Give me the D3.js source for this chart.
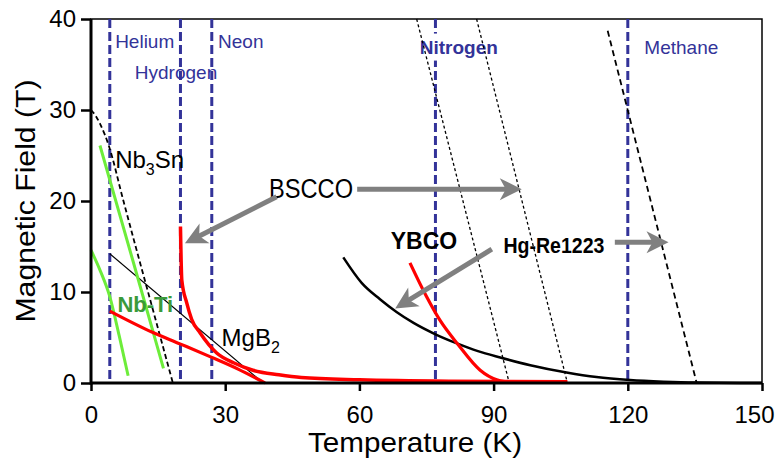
<!DOCTYPE html>
<html>
<head>
<meta charset="utf-8">
<script src="https://cdn.jsdelivr.net/npm/d3@7"></script>
<style>
  body { margin: 0; background: #fff; }
  svg { display: block; font-family: "Liberation Sans", Arial, Helvetica, sans-serif; }
</style>
</head>
<body>
<svg id="chart" width="775" height="459"></svg>
<script>
// ---- axis ticks ----
const xTicks = [0, 30, 60, 90, 120, 150];
const yTicks = [0, 10, 20, 30, 40];

// ---- boiling points of the cryogens (K) ----
const cryogenNames = ["Helium", "Hydrogen", "Neon", "Nitrogen", "Methane"];
const cryogenTemps = [4.2, 20, 27, 77, 120];

// ---- upper critical field / irreversibility curves: [T (K), B (T)] ----
const nb3snHc2   = [[0, 30], [1, 29.4], [2, 28.5], [3, 27.4], [3.9, 26.2], [7.2, 20.1], [10.2, 14.6], [14.2, 7.4], [18.3, 0]];
const nb3snIrr   = [[2.0, 26.1], [9.1, 13.9], [16.2, 1.6]];
const nbtiIrr    = [[0, 14.6], [2.1, 12.3], [4.2, 9.5], [6.3, 5.2], [8.3, 0.8]];
const mgb2Hc2    = [[4.2, 14.2], [38.5, 0]];
const mgb2Irr    = [[4.2, 7.9], [13.6, 5.6], [19.9, 4.3], [26.6, 2.9], [33, 1.5], [38.9, 0]];
const bsccoIrr   = [[20, 17.2], [20.3, 11.3], [21.4, 8.8], [22.5, 7.0], [24.4, 5.5], [28.1, 3.3], [32, 2.2], [36.2, 1.4], [42, 0.9], [47, 0.6], [60, 0.35], [80, 0.2], [106.5, 0.15]];
const ybcoIrr    = [[71.3, 13.2], [75, 9.5], [78, 6.9], [82.1, 4.2], [87, 1.4], [90.7, 0.35], [92.5, 0.15]];
const ybcoHc2    = [[56.4, 13.8], [60.5, 11.0], [64.6, 9.2], [68.3, 7.8], [72.1, 6.6], [77, 5.35], [81.8, 4.35], [86.5, 3.5], [91.5, 2.8], [98.2, 1.95], [106.3, 1.15], [113, 0.65], [120.5, 0.33], [128, 0.15], [135, 0.05], [150, 0]];
const bsccoHc2a  = [[72.8, 40], [93.5, 0]];
const bsccoHc2b  = [[86.2, 40], [106.5, 0]];
const hgHc2      = [[115.5, 38.7], [135.4, 0]];

// ---- layout ----
const W = 775, H = 459;
const margin = { top: 19, right: 13, bottom: 76, left: 91 };
const svg = d3.select("#chart");

const x = d3.scaleLinear().domain([0, 150]).range([margin.left, W - margin.right]);
const y = d3.scaleLinear().domain([0, 40]).range([H - margin.bottom, margin.top]);

const BLUE = "#333399", RED = "#ff0000", LIME = "#6ded3a", GREY = "#808080";

// plot frame (thin top and right)
svg.append("rect")
  .attr("x", x(0)).attr("y", y(40))
  .attr("width", x(150) - x(0)).attr("height", y(0) - y(40))
  .attr("fill", "none").attr("stroke", "#000").attr("stroke-width", 1.5);

// cryogen boiling-point lines
svg.append("g").selectAll("line")
  .data(cryogenTemps)
  .join("line")
  .attr("x1", d => x(d)).attr("x2", d => x(d))
  .attr("y1", y(40)).attr("y2", y(0))
  .attr("stroke", BLUE).attr("stroke-width", 3)
  .attr("stroke-dasharray", "9,4");

// cryogen labels
const cryoLabelPos = {
  Helium:   { T: 5.4,   B: 36.8, bold: false },
  Hydrogen: { T: 9.8,   B: 33.4, bold: false },
  Neon:     { T: 28.4,  B: 36.8, bold: false },
  Nitrogen: { T: 73.5,  B: 36.2, bold: true  },
  Methane:  { T: 123.7, B: 36.2, bold: false }
};
const cryoG = svg.append("g");
cryogenNames.forEach(name => {
  const p = cryoLabelPos[name];
  const t = cryoG.append("text")
    .attr("x", x(p.T)).attr("y", y(p.B))
    .attr("font-size", 19)
    .attr("font-weight", p.bold ? "bold" : "normal")
    .attr("fill", BLUE)
    .text(name);
  if (name === "Nitrogen") {
    const bb = t.node().getBBox();
    cryoG.insert("rect", "text")
      .attr("x", bb.x - 2).attr("y", bb.y - 3)
      .attr("width", bb.width + 4).attr("height", bb.height + 6)
      .attr("fill", "#fff");
  }
});

// curves
const line = d3.line().x(d => x(d[0])).y(d => y(d[1])).curve(d3.curveMonotoneX);
const straight = d3.line().x(d => x(d[0])).y(d => y(d[1]));
const curves = svg.append("g").attr("fill", "none").attr("stroke-linejoin", "round");

function draw(data, gen, stroke, width, dash) {
  curves.append("path")
    .attr("d", gen(data))
    .attr("stroke", stroke)
    .attr("stroke-width", width)
    .attr("stroke-dasharray", dash || null);
}

draw(nb3snHc2, line, "#000", 1.8, "5,3");
draw(bsccoHc2a, straight, "#000", 1.3, "3,2.5");
draw(bsccoHc2b, straight, "#000", 1.3, "3,2.5");
draw(hgHc2, straight, "#000", 1.8, "6,4");
draw(mgb2Hc2, straight, "#000", 1.2);
draw(ybcoHc2, line, "#000", 2.5);
draw(nb3snIrr, straight, LIME, 3);
draw(nbtiIrr, line, LIME, 3);
draw(mgb2Irr, line, RED, 3.2);
draw(bsccoIrr, line, RED, 3.5);
draw(ybcoIrr, line, RED, 3.2);

// axes
const xAxis = d3.axisBottom(x).tickValues(xTicks).tickSize(8).tickPadding(15);
const yAxis = d3.axisLeft(y).tickValues(yTicks).tickSize(10).tickPadding(5);

const gx = svg.append("g").attr("transform", `translate(0,${y(0)})`).call(xAxis);
const gy = svg.append("g").attr("transform", `translate(${x(0)},0)`).call(yAxis);
[gx, gy].forEach(g => {
  g.select(".domain").remove();
  g.selectAll(".tick line").attr("stroke", "#000").attr("stroke-width", 2.5);
  g.selectAll(".tick text").attr("font-size", 24).attr("fill", "#000")
    .attr("font-family", "Liberation Sans, Arial, sans-serif");
});
// keep the last temperature label inside the canvas
gx.selectAll(".tick text").filter(d => d === 150).attr("dx", -8);

svg.append("line").attr("x1", x(0)).attr("x2", x(150)).attr("y1", y(0)).attr("y2", y(0))
  .attr("stroke", "#000").attr("stroke-width", 3);
svg.append("line").attr("x1", x(0)).attr("x2", x(0)).attr("y1", y(0) + 1.5).attr("y2", y(40))
  .attr("stroke", "#000").attr("stroke-width", 3);

// axis titles
svg.append("text")
  .attr("x", 415).attr("y", 452)
  .attr("text-anchor", "middle").attr("font-size", 28)
  .attr("textLength", 214).attr("lengthAdjust", "spacingAndGlyphs")
  .text("Temperature (K)");
svg.append("text")
  .attr("transform", `translate(35,${(y(0) + y(40)) / 2}) rotate(-90)`)
  .attr("text-anchor", "middle").attr("font-size", 28)
  .attr("textLength", 243).attr("lengthAdjust", "spacingAndGlyphs")
  .text("Magnetic Field (T)");

// material labels
const labels = svg.append("g");
{
  const t = labels.append("text").attr("x", x(5.4)).attr("y", y(23.6)).attr("font-size", 24);
  t.append("tspan").text("Nb");
  t.append("tspan").attr("font-size", 16).attr("dy", 7).text("3");
  t.append("tspan").attr("dy", -7).text("Sn");
}
{
  const t = labels.append("text").attr("x", x(29.2)).attr("y", y(4.1)).attr("font-size", 24);
  t.append("tspan").text("MgB");
  t.append("tspan").attr("font-size", 16).attr("dy", 7).text("2");
}
labels.append("text").attr("x", x(5.9)).attr("y", y(7.8))
  .attr("font-size", 22).attr("font-weight", "bold").attr("fill", "#3a9a3a").text("Nb-Ti");
labels.append("text").attr("x", x(39.8)).attr("y", y(20.3))
  .attr("font-size", 27).attr("textLength", 84).attr("lengthAdjust", "spacingAndGlyphs").text("BSCCO");
labels.append("text").attr("x", x(67.0)).attr("y", y(14.7))
  .attr("font-size", 23).attr("font-weight", "bold").text("YBCO");
labels.append("text").attr("x", x(92.2)).attr("y", y(14.3))
  .attr("font-size", 22).attr("font-weight", "bold")
  .attr("textLength", 101).attr("lengthAdjust", "spacingAndGlyphs").text("Hg-Re1223");

// grey arrows: [from T, from B, to T, to B]
const arrows = [
  [41.5, 20.47, 21.0, 15.35],
  [59.5, 21.3, 96.3, 21.3],
  [89.6, 14.7, 68.0, 8.2],
  [117.1, 15.46, 129.1, 15.46]
];
const arrowG = svg.append("g");
arrows.forEach(a => {
  const x1 = x(a[0]), y1 = y(a[1]), x2 = x(a[2]), y2 = y(a[3]);
  const ang = Math.atan2(y2 - y1, x2 - x1);
  const shaftEnd = 14;
  arrowG.append("line")
    .attr("x1", x1).attr("y1", y1)
    .attr("x2", x2 - shaftEnd * Math.cos(ang)).attr("y2", y2 - shaftEnd * Math.sin(ang))
    .attr("stroke", GREY).attr("stroke-width", 5);
  arrowG.append("path")
    .attr("d", "M0,0 L-22,-11 L-16,0 L-22,11 Z")
    .attr("transform", `translate(${x2},${y2}) rotate(${ang * 180 / Math.PI})`)
    .attr("fill", GREY);
});
</script>
</body>
</html>
